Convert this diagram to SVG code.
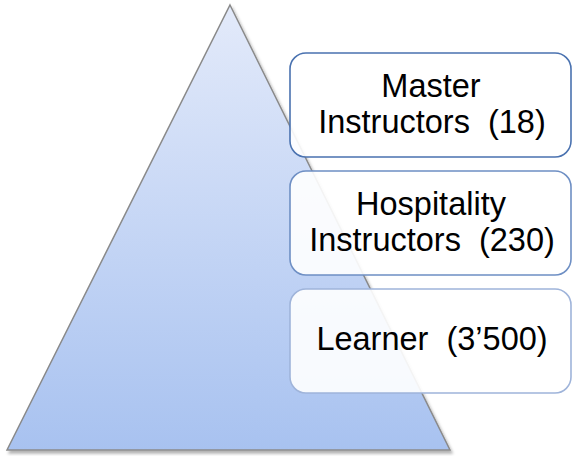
<svg xmlns="http://www.w3.org/2000/svg" width="572" height="456" viewBox="0 0 572 456">
<defs>
<linearGradient id="tg" x1="0" y1="0" x2="0" y2="1">
<stop offset="0" stop-color="#e3eafa"/>
<stop offset="1" stop-color="#a8c2f0"/>
</linearGradient>
<filter id="sh" x="-10%" y="-10%" width="120%" height="120%">
<feDropShadow dx="2" dy="3" stdDeviation="1.5" flood-color="#000" flood-opacity="0.3"/>
</filter>
</defs>
<style>
.box{fill:#ffffff;fill-opacity:0.9;stroke-width:1.6}
.lbl{font-family:"Liberation Sans",Arial,sans-serif;font-size:32.5px;fill:#000;text-anchor:middle;white-space:pre}
</style>
<rect width="572" height="456" fill="#ffffff"/>
<g id="pyramid">
<polygon points="230,5 450,450 7,450" fill="url(#tg)" stroke="#8a8a8a" stroke-width="1.5" filter="url(#sh)"/>
</g>
<g id="connectors"></g>
<g id="master">
<rect class="box" x="290" y="53" width="281" height="104" rx="16" stroke="#4a72b0"/>
<text class="lbl" x="431" y="97">Master</text>
<text class="lbl" x="432" y="133" xml:space="preserve">Instructors  (18)</text>
</g>
<g id="hospitality">
<rect class="box" x="290" y="171" width="281" height="104" rx="16" stroke="#6e8fc4"/>
<text class="lbl" x="431" y="215">Hospitality</text>
<text class="lbl" x="432" y="251" xml:space="preserve">Instructors  (230)</text>
</g>
<g id="learner">
<rect class="box" x="290" y="289" width="281" height="104" rx="16" stroke="#9fb4da"/>
<text class="lbl" x="432" y="350" xml:space="preserve">Learner  (3’500)</text>
</g>
</svg>
